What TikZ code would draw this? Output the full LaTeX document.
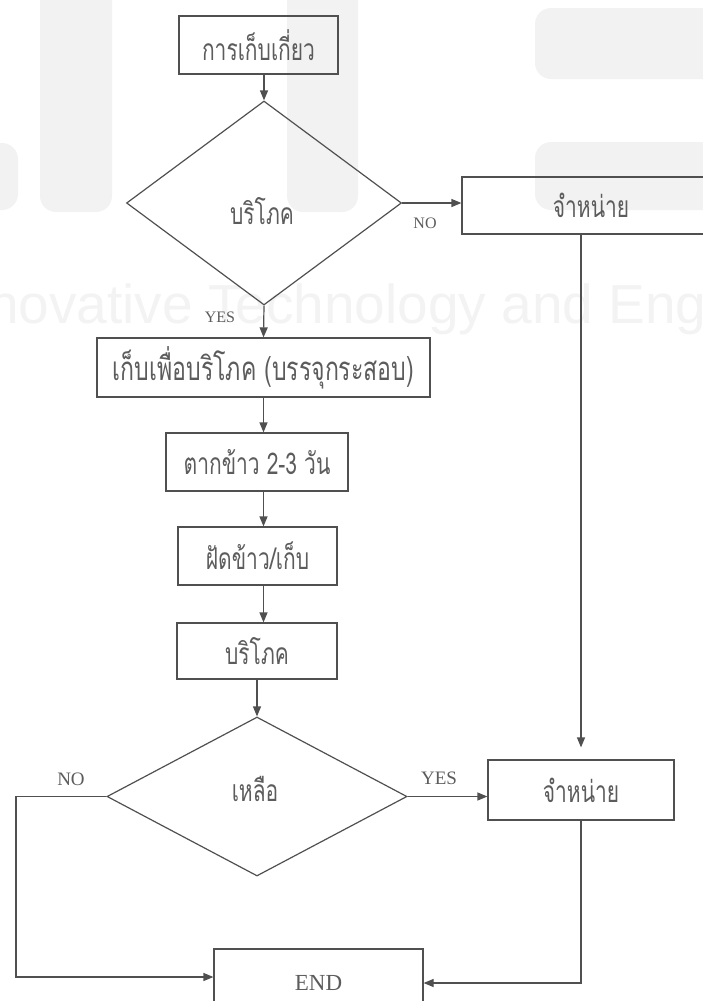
\documentclass[tikz,border=0pt]{standalone}
\usepackage{fontspec}
\setmainfont{Liberation Serif}
\newfontfamily\thaifont[Script=Thai,FakeStretch=0.7]{Loma}
\newfontfamily\wmfont{Liberation Sans}
\usetikzlibrary{shapes.geometric,arrows.meta}
\definecolor{linec}{HTML}{505050}
\definecolor{textc}{HTML}{5C5C5C}
\definecolor{wmc}{HTML}{F2F2F2}
\definecolor{wmtc}{HTML}{F3F3F3}
\newcommand\tsz[1]{\fontsize{#1}{#1}\selectfont}

\begin{document}
\begin{tikzpicture}[x=1pt,y=-1pt,
  box/.style={draw=linec, line width=1.2pt, rectangle, inner sep=0pt,
    text=textc, font=\thaifont\tsz{30}},
  dec/.style={draw=linec, line width=1.2pt, diamond, inner sep=0pt},
  dectext/.style={text=textc, inner sep=0pt, font=\thaifont\tsz{30}},
  lab/.style={text=textc, inner sep=0pt, font=\tsz{16}},
  labb/.style={text=textc, inner sep=0pt, font=\tsz{19}},
  flow/.style={draw=linec, line width=1.2pt, -{Triangle[length=10pt,width=8pt]}},
  wm/.style={text=wmtc, inner sep=0pt, font=\wmfont\tsz{55}}]
\useasboundingbox (0,0) rectangle (702,1001);

% faint background logo and lettering
\fill[wmc, rounded corners=16pt] (40,-30) rectangle (112,212);
\fill[wmc, rounded corners=16pt] (-40,143) rectangle (18,210);
\fill[wmc, rounded corners=16pt] (287,-30) rectangle (358,212);
\fill[wmc, rounded corners=16pt] (535,8) rectangle (740,79);
\fill[wmc, rounded corners=16pt] (535,142) rectangle (740,210);
\node[wm, anchor=base west] (wmtext) at (-58,323) {Innovative Technology and Engineering};

% process steps and decisions
\node[box, minimum width=159pt, minimum height=58pt] (harv) at (258.5,45) {การเก็บเกี่ยว};
\node[dec, minimum width=275pt, minimum height=204pt] (eat) at (264,203) {};
\node[dectext] (eattext) at (262,211) {บริโภค};
\node[box, minimum width=258pt, minimum height=57pt] (sell1) at (591,205.5) {จำหน่าย};
\node[box, minimum width=333pt, minimum height=59pt, font=\thaifont\tsz{33}] (store) at (263.5,367.5) {เก็บเพื่อบริโภค (บรรจุกระสอบ)};
\node[box, minimum width=182pt, minimum height=58pt] (dry) at (257,462) {ตากข้าว 2-3 วัน};
\node[box, minimum width=159pt, minimum height=58pt] (winnow) at (257.5,556) {ฝัดข้าว/เก็บ};
\node[box, minimum width=160pt, minimum height=56pt] (cons) at (257,651) {บริโภค};
\node[dec, minimum width=300pt, minimum height=159pt] (left) at (257,796.5) {};
\node[dectext] (lefttext) at (255,789) {เหลือ};
\node[box, minimum width=186pt, minimum height=60pt] (sell2) at (581,790) {จำหน่าย};
\node[box, minimum width=209pt, minimum height=68pt, font=\tsz{23}] (end) at (318.5,983) {END};

% branch labels
\node[lab] (no1) at (425,223) {NO};
\node[lab] (yes1) at (220,317) {YES};
\node[labb] (no2) at (71,779) {NO};
\node[labb] (yes2) at (439,778) {YES};

% connectors
\draw[flow] (eat.north |- harv.south) -- (eat.north);
\draw[flow] (eat.east) -- (eat.east -| sell1.west);
\draw[flow] (eat.south) -- (store.north);
\draw[flow] (store.south) -- (store.south |- dry.north);
\draw[flow] (store.south |- dry.south) -- (store.south |- winnow.north);
\draw[flow] (store.south |- winnow.south) -- (store.south |- cons.north);
\draw[flow] (left.north |- cons.south) -- (left.north);
\draw[flow] (left.east) -- (left.east -| sell2.west);
\draw[flow, shorten >=12pt] (sell2.north |- sell1.south) -- (sell2.north);
\coordinate (nl) at (16,977);
\draw[flow] (left.west) -| (nl) -- (nl -| end.west);
\draw[flow] (sell2.south) |- (end.east);
\end{tikzpicture}
\end{document}
